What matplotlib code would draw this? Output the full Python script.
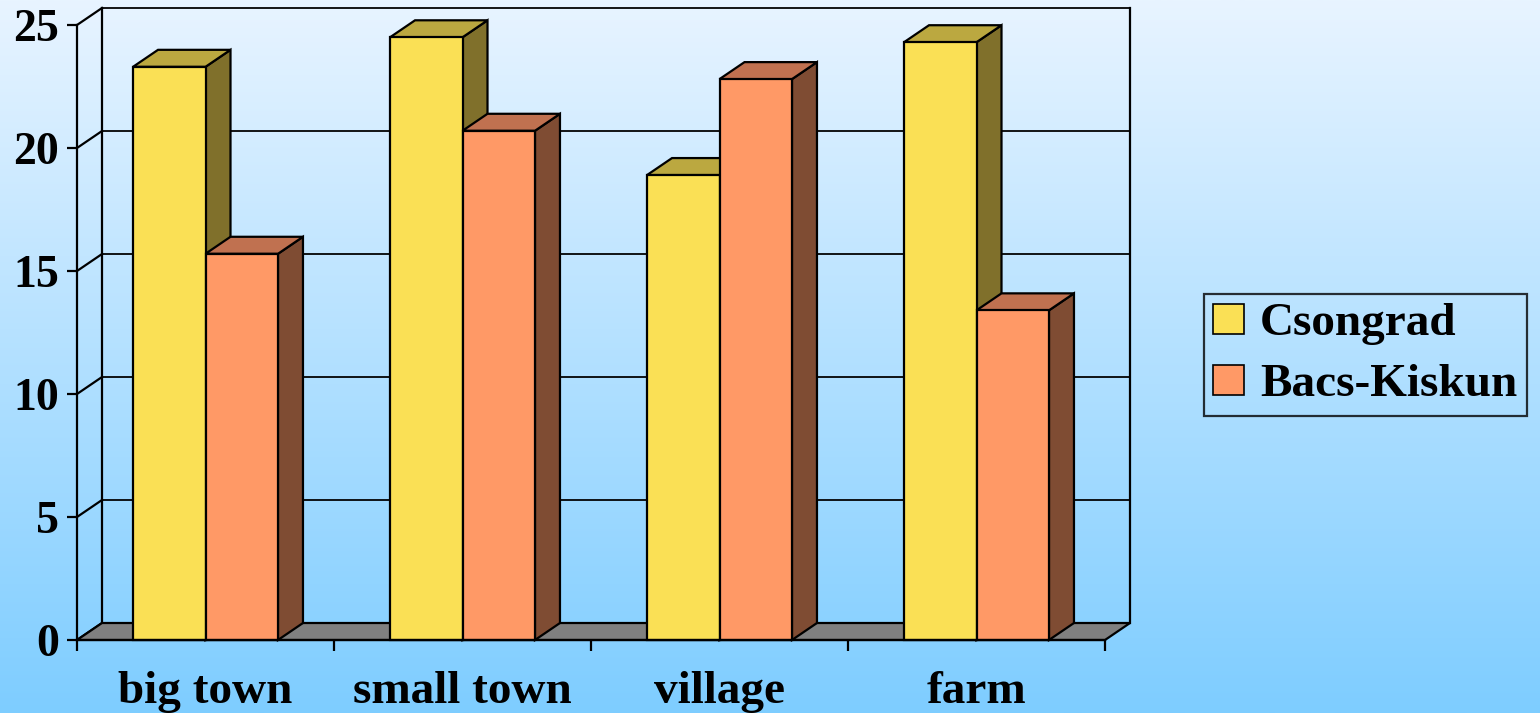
import numpy as np
import matplotlib.pyplot as plt
from matplotlib.patches import Polygon, Rectangle, Patch

categories = ["big town", "small town", "village", "farm"]
series_names = ["Csongrad", "Bacs-Kiskun"]
csongrad = [23.3, 24.5, 18.9, 24.3]
bacs_kiskun = [15.7, 20.7, 22.8, 13.4]
y_ticks = [0, 5, 10, 15, 20, 25]

front_colors = ["#FAE055", "#FF9966"]
top_colors = ["#BBA840", "#C07150"]
side_colors = ["#80702B", "#7F4C33"]

FONT = "Liberation Serif"

fig = plt.figure(figsize=(15.4, 7.13), dpi=100)

# background gradient
bg = fig.add_axes([0, 0, 1, 1], zorder=-5)
grad = np.linspace(0, 1, 256).reshape(-1, 1)
top_c = np.array([232, 244, 255]) / 255
bot_c = np.array([126, 205, 255]) / 255
img = top_c[None, None, :] * (1 - grad[:, :, None]) + bot_c[None, None, :] * grad[:, :, None]
bg.imshow(img, aspect="auto", extent=[0, 1, 0, 1])
bg.axis("off")

ax = fig.add_axes([77 / 1540, 73 / 713, 1028 / 1540, 615 / 713])
ax.set_facecolor("none")
n = len(categories)
ymax = y_ticks[-1]
ax.set_xlim(0, n)
ax.set_ylim(0, ymax)

# depth of the 3d effect in data units
dx = 25 / 257
dy = 17 / 24.6
lw = 1.6

# floor
ax.add_patch(Polygon([(0, 0), (n, 0), (n + dx, dy), (dx, dy)], closed=True,
                     facecolor="#808080", edgecolor="black", lw=lw, zorder=1, clip_on=False))

# back wall + side wall grid
for v in y_ticks:
    ax.plot([dx, n + dx], [v + dy, v + dy], color="black", lw=lw * 0.8, zorder=0.5, clip_on=False)
    ax.plot([0, dx], [v, v + dy], color="black", lw=lw, zorder=0.5, clip_on=False)
ax.plot([dx, dx], [dy, ymax + dy], color="black", lw=lw, zorder=0.5, clip_on=False)
ax.plot([n + dx, n + dx], [dy, ymax + dy], color="black", lw=lw, zorder=0.5, clip_on=False)

# bars
w = 0.282
for j, vals in enumerate([csongrad, bacs_kiskun]):
    for i, h in enumerate(vals):
        x0 = i + 0.5 - w + j * w
        z = 2 + j
        ax.add_patch(Polygon([(x0 + w, 0), (x0 + w + dx, dy), (x0 + w + dx, h + dy), (x0 + w, h)],
                             closed=True, facecolor=side_colors[j], edgecolor="black",
                             lw=lw, zorder=z, clip_on=False))
        ax.add_patch(Polygon([(x0, h), (x0 + w, h), (x0 + w + dx, h + dy), (x0 + dx, h + dy)],
                             closed=True, facecolor=top_colors[j], edgecolor="black",
                             lw=lw, zorder=z, clip_on=False))
        ax.add_patch(Rectangle((x0, 0), w, h, facecolor=front_colors[j], edgecolor="black",
                               lw=lw, zorder=z, clip_on=False))

# axes
for s in ["top", "right"]:
    ax.spines[s].set_visible(False)
for s in ["left", "bottom"]:
    ax.spines[s].set_linewidth(lw)
    ax.spines[s].set_zorder(6)
ax.set_yticks(y_ticks)
ax.set_yticklabels([str(t) for t in y_ticks], fontsize=33, fontweight="bold", family=FONT)
ax.tick_params(axis="y", length=7, width=lw, pad=6)
ax.set_xticks(range(n + 1))
ax.set_xticklabels([])
ax.tick_params(axis="x", which="major", length=8, width=lw, direction="out")
ax.set_xticks(np.arange(n) + 0.5, minor=True)
ax.set_xticklabels(categories, minor=True, fontsize=34, fontweight="bold", family=FONT)
ax.tick_params(axis="x", which="minor", length=0, pad=22)

handles = [Patch(facecolor=front_colors[k], edgecolor="black", lw=1.2, label=series_names[k])
           for k in range(2)]
leg = fig.legend(handles=handles, loc="upper left", bbox_to_anchor=(1204 / 1540, 1 - 294 / 713),
                 prop={"family": FONT, "size": 34, "weight": "bold"}, frameon=True, fancybox=False,
                 handlelength=0.65, handleheight=0.6, handletextpad=0.34, borderpad=0.2,
                 labelspacing=0.4, borderaxespad=0)
leg.get_frame().set_edgecolor("black")
leg.get_frame().set_linewidth(lw)
leg.get_frame().set_facecolor("none")

fig.savefig("out.png", dpi=100)
